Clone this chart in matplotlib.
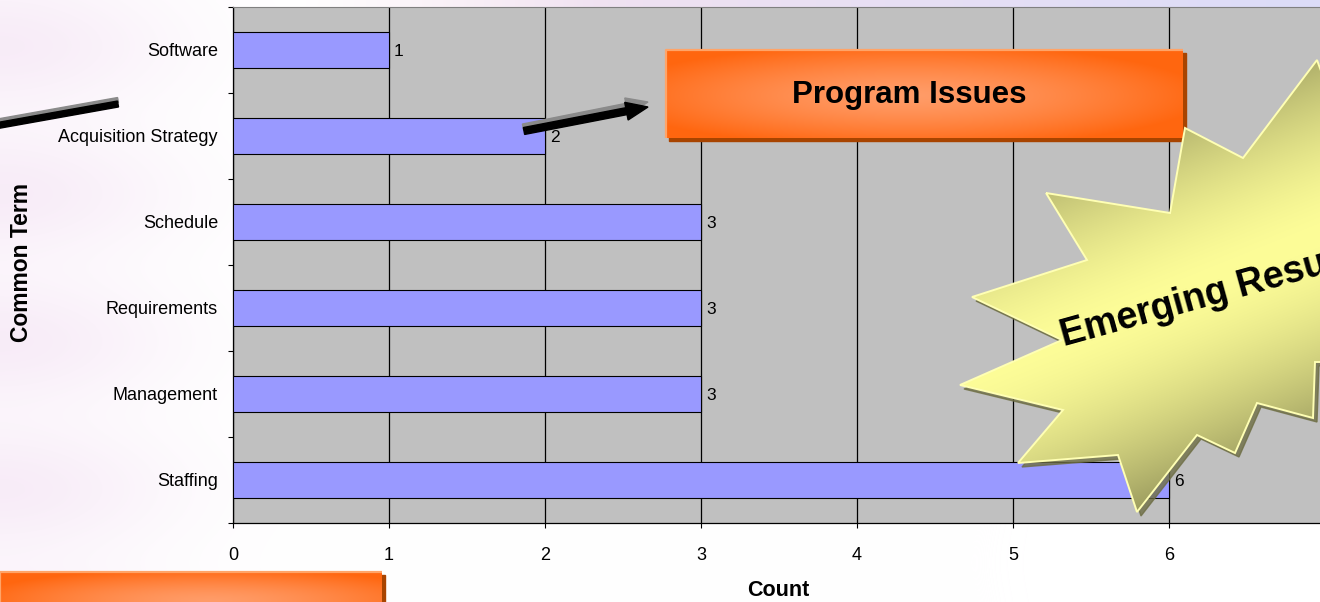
import numpy as np
import matplotlib.pyplot as plt
from matplotlib.patches import Polygon, Rectangle, FancyArrow

# common terms from the review and how often each one came up
terms = ["Staffing", "Management", "Requirements", "Schedule",
         "Acquisition Strategy", "Software"]
counts = [6, 3, 3, 3, 2, 1]
count_ticks = [0, 1, 2, 3, 4, 5, 6, 7]

W, H = 1320, 602
FONT = "Liberation Sans"
plt.rcParams["font.family"] = [FONT, "DejaVu Sans"]

fig = plt.figure(figsize=(W / 100, H / 100), dpi=100)


def hexrgb(c):
    c = c.lstrip("#")
    return np.array([int(c[i:i + 2], 16) / 255 for i in (0, 2, 4)])


def mix(a, b, t):
    return a[None, None, :] * (1 - t[..., None]) + b[None, None, :] * t[..., None]


# slide background: white with a soft pink/lavender haze
bg = fig.add_axes([0, 0, 1, 1], zorder=0)
yy, xx = np.mgrid[0:H, 0:W].astype(float)
haze = 0.55 * np.exp(-(xx / 170.0) ** 2) * (0.55 + 0.45 * np.sin(yy / 47.0 + 0.6) ** 2)
img = mix(np.ones(3), hexrgb("#F2DDF2"), haze)
strip = (yy < 8) * np.clip((xx - 300) / 300, 0, 1)
top_col = mix(hexrgb("#F6E4F0"), hexrgb("#DCDCF8"), np.clip((xx - 400) / 900, 0, 1))
img = img * (1 - strip[..., None]) + top_col * strip[..., None]
bg.imshow(img, extent=[0, W, H, 0], aspect="auto")
bg.set_xlim(0, W)
bg.set_ylim(H, 0)
bg.axis("off")

# the bar chart
ax = fig.add_axes([233 / W, (H - 523) / H, 1092 / W, 516 / H], zorder=1)
ax.set_facecolor("#C0C0C0")
pos = np.arange(len(terms))
ax.barh(pos, counts, height=0.41, color="#9999FF", edgecolor="black",
        linewidth=0.8, zorder=3)
for p, c in zip(pos, counts):
    ax.annotate(str(c), (c, p), xytext=(3.5, -1), textcoords="offset points",
                va="center", ha="left", fontsize=12.5, zorder=4)

ax.set_xlim(count_ticks[0], count_ticks[-1])
ax.set_ylim(-0.5, len(terms) - 0.5)
ax.set_xticks(count_ticks)
ax.xaxis.grid(True, color="black", linewidth=0.9)
ax.set_axisbelow(True)
ax.set_yticks(pos)
ax.set_yticklabels(terms)
ax.set_yticks(np.arange(-0.5, len(terms), 1), minor=True)
ax.tick_params(axis="y", which="major", length=0, pad=10.8, labelsize=13)
ax.tick_params(axis="y", which="minor", length=3.6, width=0.8)
ax.tick_params(axis="x", length=3.6, width=0.8, pad=13.5, labelsize=13)
ax.spines["top"].set_color("#808080")
ax.spines["right"].set_visible(False)
for s in ("left", "bottom"):
    ax.spines[s].set_color("black")
    ax.spines[s].set_linewidth(0.9)

fig.text(778 / W, 1 - 590 / H, "Count", fontsize=15.5, fontweight="bold",
         ha="center", va="center")
fig.text(22 / W, 1 - 263 / H, "Common Term", fontsize=16.5, fontweight="bold",
         rotation=90, ha="center", va="center")

# slide decorations drawn in pixel units on top
ov = fig.add_axes([0, 0, 1, 1], zorder=5)
ov.patch.set_alpha(0)


def orange_box(x0, y0, x1, y1, cx, cy, rx, ry):
    ov.add_patch(Rectangle((x0 + 3, y0 + 3), x1 - x0, y1 - y0,
                           color="#A84400", zorder=1))
    gy, gx = np.mgrid[y0:y1, x0:x1].astype(float)
    t = np.clip(np.sqrt(((gx - cx) / rx) ** 2 + ((gy - cy) / ry) ** 2), 0, 1) ** 1.4
    ov.imshow(mix(hexrgb("#FF9C68"), hexrgb("#FF660F"), t),
              extent=[x0, x1, y1, y0], aspect="auto", zorder=2,
              interpolation="bilinear")
    ov.plot([x0, x0, x1], [y1, y0, y0], color="#FFA468", lw=1.6, zorder=3,
            solid_capstyle="butt")


orange_box(666, 50, 1183, 138, 908, 95, 300, 52)
ov.text(909, 95, "Program Issues", fontsize=22.5, fontweight="bold",
        ha="center", va="center", zorder=4)
orange_box(0, 572, 382, 610, 210, 600, 240, 32)


def thick_segment(p0, p1, w):
    p0, p1 = np.array(p0, float), np.array(p1, float)
    d = (p1 - p0) / np.linalg.norm(p1 - p0)
    n = np.array([-d[1], d[0]]) * w / 2
    return [p0 + n, p1 + n, p1 - n, p0 - n]


# pointer line coming in from the left edge
ov.add_patch(Polygon(thick_segment((-5, 122), (118, 100), 5), color="#8A8A8A", zorder=3))
ov.add_patch(Polygon(thick_segment((-5, 126), (118, 104), 6), color="black", zorder=4))

# arrow towards the Program Issues box
ov.add_patch(FancyArrow(523, 127, 125, -25, width=6, head_width=17, head_length=22,
                        length_includes_head=True, color="#8A8A8A", zorder=3))
ov.add_patch(FancyArrow(524, 131, 124, -24, width=7, head_width=18, head_length=22,
                        length_includes_head=True, color="black", zorder=4))

# "Emerging Results" starburst
star = [(1046, 193), (1170, 213), (1185, 128), (1243, 158), (1317, 60),
        (1350, 150), (1350, 362), (1315, 362), (1313, 418), (1257, 403),
        (1235, 453), (1197, 435), (1137, 512), (1118, 455), (1018, 463),
        (1063, 410), (960, 385), (1062, 340), (972, 297), (1087, 260)]
shadow = [(x + 4, y + 4) for x, y in star]
ov.add_patch(Polygon(shadow, closed=True, color="#6E6E44", alpha=0.8, zorder=6))
clip = Polygon(star, closed=True, facecolor="none", edgecolor="#FFFFB4",
               linewidth=1.4, zorder=8)
ov.add_patch(clip)
sx0, sx1, sy0, sy1 = 940, 1350, 50, 520
gy, gx = np.mgrid[sy0:sy1, sx0:sx1].astype(float)
ang = np.deg2rad(22)
dist = (gx - 960) * np.sin(ang) + (gy - 385) * np.cos(ang)
t = np.clip(np.abs(dist + 5) / 240, 0, 1) ** 1.6
fill = ov.imshow(mix(hexrgb("#FDFD98"), hexrgb("#6E6E44"), t),
                 extent=[sx0, sx1, sy1, sy0], aspect="auto", zorder=7,
                 interpolation="bilinear")
fill.set_clip_path(clip)
ov.text(1064, 346, "Emerging Results", fontsize=27, fontweight="bold",
        rotation=15.5, rotation_mode="anchor", ha="left", va="baseline", zorder=9)

ov.set_xlim(0, W)
ov.set_ylim(H, 0)
ov.axis("off")

fig.savefig("out.png", dpi=100)
